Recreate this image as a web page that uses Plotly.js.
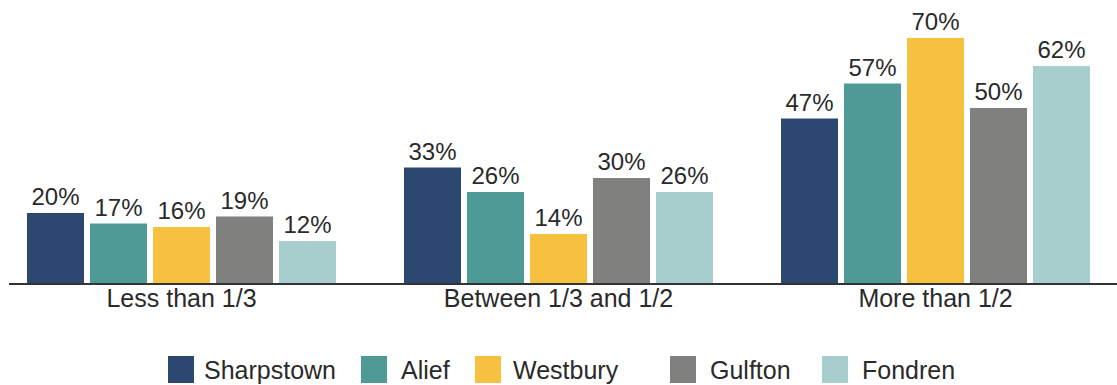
<!DOCTYPE html>
<html>
<head>
<meta charset="utf-8">
<script src="https://cdn.plot.ly/plotly-3.0.1.min.js"></script>
<style>html,body{margin:0;padding:0;background:#fff;}#chart{width:1117px;height:385px;}</style>
</head>
<body>
<div id="chart"></div>
<script>
const categories = ["Less than 1/3", "Between 1/3 and 1/2", "More than 1/2"];
const seriesNames = ["Sharpstown", "Alief", "Westbury", "Gulfton", "Fondren"];
const sharpstown = [20, 33, 47];
const alief = [17, 26, 57];
const westbury = [16, 14, 70];
const gulfton = [19, 30, 50];
const fondren = [12, 26, 62];
const seriesValues = [sharpstown, alief, westbury, gulfton, fondren];
const colors = ["#2c4770", "#4e9a97", "#f5c13e", "#80817e", "#a7cdcc"];

const W = 1117, H = 385, L = 9, B = 102;
const plotW = W - L, plotH = H - B;
const FONT = "Liberation Sans, Arial, sans-serif";
const TXT = "#2a2a2a";

const traces = seriesValues.map((vals, i) => ({
  type: "bar",
  name: seriesNames[i],
  x: categories,
  y: vals,
  marker: {color: colors[i]},
  texttemplate: "%{y}%",
  textposition: "outside",
  constraintext: "none",
  textfont: {family: FONT, size: 24, color: TXT},
  cliponaxis: false,
  hoverinfo: "skip",
  showlegend: false
}));

// custom legend (pixel positions converted to paper coords)
const swLeft = [168, 361, 475, 670, 822];
const txLeft = [202, 399, 511, 708, 860];
const px = p => (p - L) / plotW;
const py = p => (plotH - p) / plotH;
const shapes = [];
const annotations = [];
seriesNames.forEach((n, i) => {
  shapes.push({type: "rect", xref: "paper", yref: "paper",
    x0: px(swLeft[i]), x1: px(swLeft[i] + 26), y0: py(383), y1: py(356),
    fillcolor: colors[i], line: {width: 0}});
  annotations.push({xref: "paper", yref: "paper", x: px(txLeft[i]), y: py(369.5),
    xanchor: "left", yanchor: "middle", text: n, showarrow: false,
    font: {family: FONT, size: 25, color: TXT}});
});

const catW = 377;
const layout = {
  width: W, height: H,
  margin: {l: L, r: 0, t: 0, b: B, pad: 0},
  paper_bgcolor: "#fff", plot_bgcolor: "#fff",
  barmode: "group",
  bargap: 62 / 377,
  bargroupgap: 6 / 63,
  font: {family: FONT, color: TXT},
  xaxis: {
    type: "category",
    range: [-(181.5 - L) / catW, 2 + (W - 935.5) / catW],
    showline: true, linecolor: "#333", linewidth: 2,
    ticks: "", showgrid: false, zeroline: false,
    ticklabelstandoff: -8,
    tickfont: {family: FONT, size: 25, color: TXT},
    fixedrange: true
  },
  yaxis: {
    range: [0, plotH / 3.5],
    visible: false, showgrid: false, zeroline: false, fixedrange: true
  },
  shapes: shapes,
  annotations: annotations,
  showlegend: false
};

Plotly.newPlot("chart", traces, layout, {displayModeBar: false, staticPlot: true});
</script>
</body>
</html>
